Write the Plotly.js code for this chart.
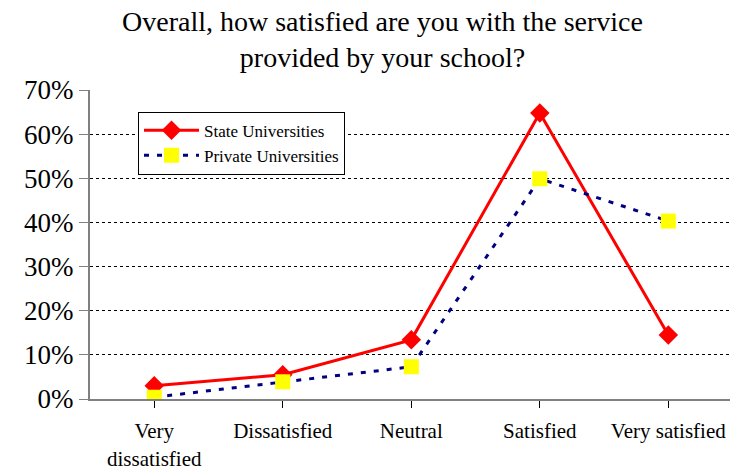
<!DOCTYPE html>
<html>
<head>
<meta charset="utf-8">
<script src="https://cdn.plot.ly/plotly-3.0.1.min.js"></script>
<style>html,body{margin:0;padding:0;background:#fff;}#chart{width:730px;height:470px;}</style>
</head>
<body>
<div id="chart"></div>
<script>
const categories = ["Very<br>dissatisfied", "Dissatisfied", "Neutral", "Satisfied", "Very satisfied"];
const stateValues = [3.0, 5.5, 13.4, 64.8, 14.5];
const privateValues = [0.4, 3.9, 7.3, 49.9, 40.3];
const yTickVals = [0, 10, 20, 30, 40, 50, 60, 70];
const yTickText = ["0%", "10%", "20%", "30%", "40%", "50%", "60%", "70%"];

const serif = "Liberation Serif, DejaVu Serif, serif";

const traces = [
  {
    x: [0,1,2,3,4], y: stateValues, name: "State Universities",
    type: "scatter", mode: "lines+markers", legendgroup: "a",
    line: {color: "#ff0000", width: 3},
    marker: {symbol: "diamond", size: 15, color: "#ff0000"}
  },
  {
    x: [0,1,2,3,4], y: privateValues, name: "Private Universities",
    type: "scatter", mode: "lines+markers", legendgroup: "b",
    line: {color: "#000080", width: 3, dash: "5px,8px"},
    marker: {symbol: "square", size: 15, color: "#ffff00"}
  }
];

const layout = {
  width: 730, height: 470,
  margin: {l: 90, r: 0, t: 90, b: 71},
  paper_bgcolor: "#ffffff", plot_bgcolor: "#ffffff",
  font: {family: serif, color: "#000"},
  title: {
    text: "Overall, how satisfied are you with the service<br>provided by your school?",
    font: {family: serif, size: 28, color: "#000"},
    x: 0.524, xanchor: "center", y: 1 - 31/470, yanchor: "middle"
  },
  showlegend: true,
  legend: {
    x: 0.075, y: 0.93, xanchor: "left", yanchor: "top",
    bgcolor: "#ffffff", bordercolor: "#000", borderwidth: 1,
    font: {family: serif, size: 17, color: "#000"},
    traceorder: "grouped", tracegroupgap: 0, itemwidth: 55
  },
  xaxis: {
    range: [-0.5, 4.48],
    tickmode: "array", tickvals: [0,1,2,3,4], ticktext: categories,
    tickson: "boundaries",
    ticks: "outside", ticklen: 7, tickcolor: "#000", tickwidth: 1,
    showline: true, linecolor: "#808080", linewidth: 2,
    showgrid: false, zeroline: false,
    ticklabelstandoff: 5,
    tickfont: {family: serif, size: 21, color: "#000"},
    fixedrange: true
  },
  yaxis: {
    range: [0, 70],
    tickmode: "array", tickvals: yTickVals, ticktext: yTickText,
    ticks: "outside", ticklen: 9, tickcolor: "#808080", tickwidth: 1,
    showline: true, linecolor: "#808080", linewidth: 2,
    showgrid: true, gridcolor: "#000", gridwidth: 1, griddash: "dot",
    zeroline: false,
    tickfont: {family: serif, size: 27, color: "#000"},
    fixedrange: true
  }
};

Plotly.newPlot("chart", traces, layout, {displayModeBar: false, staticPlot: true});
</script>
</body>
</html>
